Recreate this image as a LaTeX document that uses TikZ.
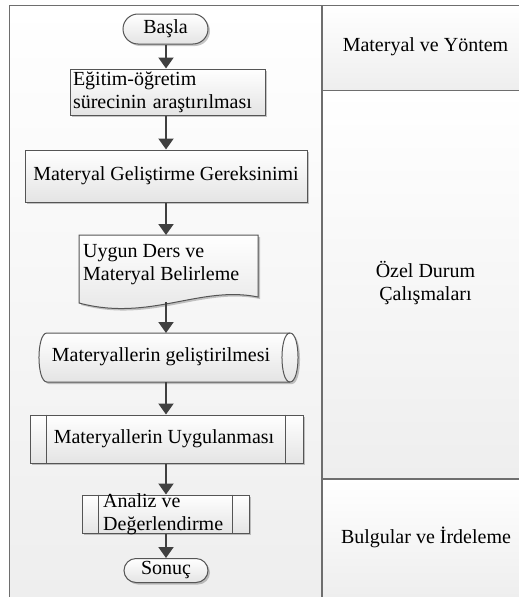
\documentclass[tikz,border=0pt]{standalone}
\usepackage{fontspec}
\setmainfont{Liberation Serif}
\usetikzlibrary{arrows.meta,shadows}
\definecolor{bordc}{HTML}{555555}
\definecolor{arrc}{HTML}{404040}
\definecolor{framec}{HTML}{6E6E6E}
\definecolor{shadeb}{HTML}{E4E4E4}
\definecolor{cellb}{HTML}{EEEEEE}
\tikzset{
  shbox/.style={drop shadow={shadow xshift=2pt,shadow yshift=-2pt,fill=black,opacity=0.22}},
  fbox/.style={draw=bordc, line width=1pt, top color=white, bottom color=shadeb, shbox, inner sep=0pt},
  innerline/.style={draw=bordc, line width=1pt},
  arr/.style={draw=arrc, line width=2pt, -{Triangle[width=15pt,length=11pt]}},
  framel/.style={draw=framec, line width=1.5pt},
  lbl/.style={inner sep=0pt, align=center},
}
\begin{document}
\begin{tikzpicture}[x=1pt,y=-1pt,font=\fontsize{20}{23}\selectfont]
\useasboundingbox (0,0) rectangle (519,597);
% backgrounds
\shade[top color=white, bottom color=cellb] (9.5,5.5) rectangle (322,597);
\shade[top color=white, bottom color=cellb] (322,5.5) rectangle (519,90.5);
\shade[top color=white, bottom color=cellb] (322,90.5) rectangle (519,479);
\shade[top color=white, bottom color=cellb] (322,479) rectangle (519,597);
% frame lines
\coordinate (tl) at (9.5,5.5);
\coordinate (tr) at (519,5.5);
\coordinate (bl) at (9.5,597);
\coordinate (dt) at (322,5.5);
\coordinate (db) at (322,597);
\coordinate (h1l) at (322,90.5);
\coordinate (h1r) at (519,90.5);
\coordinate (h2l) at (322,479);
\coordinate (h2r) at (519,479);
\draw[framel] (bl) -- (tl) -- (tr);
\draw[framel] (dt) -- (db);
\draw[framel] (h1l) -- (h1r);
\draw[framel] (h2l) -- (h2r);
% right column labels
\node[lbl] (mv) at (425.5,47) {Materyal ve Yöntem};
\node[lbl] (oz) at (425.5,283.5) {Özel Durum\\Çalışmaları};
\node[lbl] (bu) at (426,537) {Bulgular ve İrdeleme};
% flowchart
\node[fbox, rounded corners=15pt, minimum width=85pt, minimum height=30pt] (start) at (165.5,29) {Başla};
\node[fbox, minimum width=195pt, minimum height=46pt, text width=189pt, inner xsep=3pt, align=left] (egitim) at (167.5,92) {Eğitim-öğretim\\sürecinin araştırılması};
\node[fbox, minimum width=282pt, minimum height=52pt] (gerek) at (166,176) {Materyal Geliştirme Gereksinimi};
% document shape
\draw[fbox] (79,235) -- (258,235) -- (258,297) .. controls (200,285) and (150,322) .. (79,303) -- cycle;
\node[lbl, anchor=west, align=left] (uygun) at (83,265) {Uygun Ders ve\\Materyal Belirleme};
\coordinate (uygunt) at (166,235);
\coordinate (uygunb) at (166,302);
% stored data (cylinder) shape
\draw[fbox] (47,333) -- (290,333) .. controls (300.7,333) and (300.7,382) .. (290,382) -- (47,382) .. controls (36.3,382) and (36.3,333) .. (47,333) -- cycle;
\draw[innerline] (290,382) .. controls (279.3,382) and (279.3,333) .. (290,333);
\node[lbl] (gelis) at (161,357) {Materyallerin geliştirilmesi};
\coordinate (cylt) at (166,333);
\coordinate (cylb) at (166,382);
% predefined process
\node[fbox, minimum width=273pt, minimum height=48pt] (uyg) at (166.5,439) {};
\node[lbl] (uygt) at (164,439) {Materyallerin Uygulanması};
\draw[innerline] ([xshift=17pt]uyg.north west) -- ([xshift=17pt]uyg.south west);
\draw[innerline] ([xshift=-18pt]uyg.north east) -- ([xshift=-18pt]uyg.south east);
\node[fbox, minimum width=167pt, minimum height=38pt] (analiz) at (165.5,514) {};
\draw[innerline] ([xshift=17pt]analiz.north west) -- ([xshift=17pt]analiz.south west);
\draw[innerline] ([xshift=-17pt]analiz.north east) -- ([xshift=-17pt]analiz.south east);
\node[lbl, anchor=west, align=left] (analizt) at (103,514.7) {Analiz ve\\Değerlendirme};
\node[fbox, rounded corners=12pt, minimum width=84pt, minimum height=24pt] (end) at (166,570.5) {Sonuç};
% arrows
\draw[arr] (start.south -| gerek) -- (egitim.north -| gerek);
\draw[arr] (egitim.south -| gerek) -- (gerek.north);
\draw[arr] (gerek.south) -- (uygunt);
\draw[arr] (uygunb) -- (cylt);
\draw[arr] (cylb) -- (uyg.north -| gerek);
\draw[arr] (uyg.south -| gerek) -- (analiz.north -| gerek);
\draw[arr] (analiz.south -| gerek) -- (end.north -| gerek);
\end{tikzpicture}
\end{document}
